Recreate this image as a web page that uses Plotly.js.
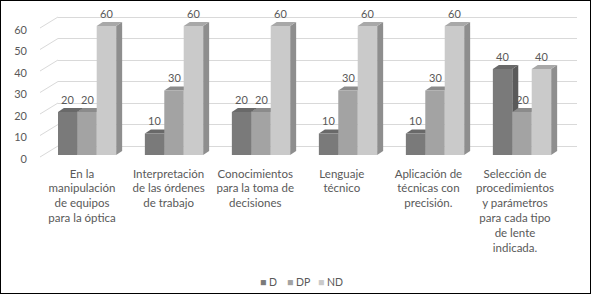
<!DOCTYPE html>
<html><head><meta charset="utf-8">
<script src="https://cdn.plot.ly/plotly-3.0.1.min.js"></script>
<style>html,body{margin:0;padding:0;background:#fff}#chart{width:589px;height:292px;border:1px solid #000}</style>
</head><body><div id="chart"></div>
<script>
// ---- data ----
const categories = [
  'En la<br>manipulación<br>de equipos<br>para la óptica',
  'Interpretación<br>de las órdenes<br>de trabajo',
  'Conocimientos<br>para la toma de<br>decisiones',
  'Lenguaje<br>técnico',
  'Aplicación de<br>técnicas con<br>precisión.',
  'Selección de<br>procedimientos<br>y parámetros<br>para cada tipo<br>de lente<br>indicada.'
];
const seriesNames = ['D', 'DP', 'ND'];
const valuesD  = [20, 10, 20, 10, 10, 40];
const valuesDP = [20, 30, 20, 30, 30, 20];
const valuesND = [60, 60, 60, 60, 60, 40];
const yTicks = [0, 10, 20, 30, 40, 50, 60];

// ---- styling ----
const series = [valuesD, valuesDP, valuesND];
const frontColors = ['#7a7a7a', '#a3a3a3', '#cacaca'];
const sideColors  = ['#5a5a5a', '#7b7b7b', '#8e8e8e'];
const topColors   = ['#696969', '#8b8b8b', '#a8a8a8'];
const textColor = '#595959';
const FONT = 'Lato, "Open Sans", sans-serif';

// page-pixel geometry of the plot area (div border offset 1px)
const L = 58, R = 577, T = 10, B = 165;
const W = R - L, H = B - T;
const pxX = 87;       // px per category on bar axis
const pxY = 2.15;     // px per value unit
const firstBarPx = 87, firstLabelPx = 82, labelStep = 86.6;
const zeroFront = 155, zeroBack = 146;
const bargap = 0.33;
const depthX = 6 / pxX, depthY = 4 / pxY;

const idx = categories.map((c, i) => i);
const xRange = [-(firstBarPx - L) / pxX, -(firstBarPx - L) / pxX + W / pxX];
const x2Range = [-(firstLabelPx - L) / labelStep, -(firstLabelPx - L) / labelStep + W / labelStep];
const yRange = [-(B - zeroFront) / pxY, (zeroFront - T) / pxY];
const y2Range = [-(B - zeroBack) / pxY, (zeroBack - T) / pxY];

const barW = (1 - bargap) / 3;

const traces = series.map((vals, s) => ({
  type: 'bar', name: seriesNames[s], x: idx, y: vals,
  marker: {color: frontColors[s], line: {width: 0}},
  hoverinfo: 'skip', showlegend: false
}));
// invisible helper trace to activate the grid / label axes
traces.push({type: 'scatter', mode: 'markers', x: idx, y: valuesD, xaxis: 'x2', yaxis: 'y2',
  marker: {opacity: 0}, hoverinfo: 'skip', showlegend: false});

const shapes = [];
const annotations = [];
series.forEach((vals, s) => {
  vals.forEach((v, k) => {
    const xc = k + (s - 1) * barW;
    const xl = xc - barW / 2, xr = xc + barW / 2;
    shapes.push({type: 'path', xref: 'x', yref: 'y', layer: 'between', line: {width: 0},
      fillcolor: sideColors[s],
      path: `M${xr},0 L${xr + depthX},${depthY} L${xr + depthX},${v + depthY} L${xr},${v} Z`});
    shapes.push({type: 'path', xref: 'x', yref: 'y', layer: 'between', line: {width: 0},
      fillcolor: topColors[s],
      path: `M${xl},${v} L${xr},${v} L${xr + depthX},${v + depthY} L${xl + depthX},${v + depthY} Z`});
    annotations.push({xref: 'x', yref: 'y', x: xc, y: v, text: String(v), showarrow: false,
      yanchor: 'middle', yshift: 13, font: {family: FONT, size: 11, color: textColor}});
  });
});
// perspective stubs of the gridlines on the left wall
yTicks.forEach(v => {
  shapes.push({type: 'line', xref: 'paper', yref: 'y2', layer: 'below',
    x0: (40 - L) / W, y0: v - 11 / pxY, x1: 0, y1: v,
    line: {color: '#d9d9d9', width: 1}});
});
// legend
const legendX = [268.5, 298, 330.5];
seriesNames.forEach((n, s) => {
  annotations.push({xref: 'paper', yref: 'paper', x: (legendX[s] - L) / W, y: (B - 282) / H,
    text: `<span style="color:${frontColors[s]}">■</span> ${n}`, showarrow: false,
    xanchor: 'center', yanchor: 'middle', font: {family: FONT, size: 10.5, color: textColor}});
});

const layout = {
  width: 589, height: 292,
  margin: {l: L - 1, r: 589 - (R - 1), t: T - 1, b: 292 - (B - 1), pad: 0},
  paper_bgcolor: '#fff', plot_bgcolor: 'rgba(0,0,0,0)',
  barmode: 'group', bargap: bargap, bargroupgap: 0,
  font: {family: FONT, size: 11, color: textColor},
  xaxis: {range: xRange, showticklabels: false, showgrid: false, zeroline: false, showline: false, ticks: ''},
  yaxis: {range: yRange, showticklabels: false, showgrid: false, zeroline: false, showline: false, ticks: ''},
  xaxis2: {overlaying: 'x', anchor: 'y2', range: x2Range, tickmode: 'array', tickvals: idx, ticktext: categories,
    showgrid: false, zeroline: false, showline: false, ticks: '', tickangle: 0,
    tickfont: {family: FONT, size: 11.5, color: textColor}},
  yaxis2: {overlaying: 'y', range: y2Range, tickmode: 'array', tickvals: yTicks, ticktext: yTicks.map(String),
    showgrid: true, gridcolor: '#d9d9d9', gridwidth: 1, zeroline: false, showline: false, ticks: '',
    ticklabelshift: 13, ticklabelstandoff: 30,
    tickfont: {family: FONT, size: 11, color: textColor}},
  shapes: shapes, annotations: annotations
};
Plotly.newPlot('chart', traces, layout, {displayModeBar: false, staticPlot: true});
</script></body></html>
